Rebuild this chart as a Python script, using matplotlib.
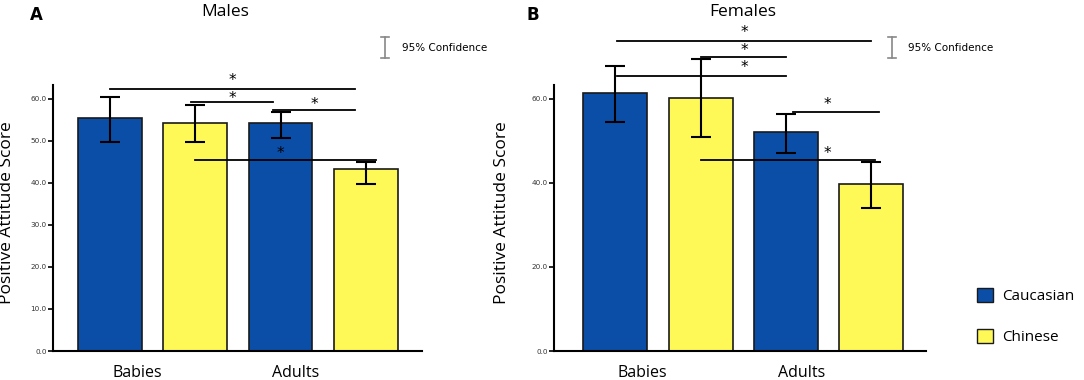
import matplotlib
matplotlib.use("Agg")
import matplotlib.pyplot as plt
from matplotlib.lines import Line2D
from matplotlib.patches import Patch

plt.rcParams['font.family'] = ['Open Sans', 'DejaVu Sans']

# ---- data ----
groups = ['Babies', 'Adults']
ethnicities = ['Caucasian', 'Chinese']
# bar order: Caucasian-Babies, Chinese-Babies, Caucasian-Adults, Chinese-Adults
males_mean = [55.5, 54.3, 54.3, 43.3]
males_lo = [49.8, 49.8, 50.7, 39.8]
males_hi = [60.5, 58.6, 56.9, 45.0]
females_mean = [61.4, 60.2, 52.1, 39.7]
females_lo = [54.5, 51.0, 47.2, 34.0]
females_hi = [67.9, 69.5, 56.5, 45.0]

# significance brackets: (x_start, x_end, y), star (x, y)
males_sig = [(0.0, 2.87, 62.4), (0.95, 1.91, 59.3), (1.91, 2.87, 57.4), (1.0, 3.12, 45.5)]
males_stars = [(1.43, 64.3), (1.43, 60.2), (2.40, 58.6), (2.0, 46.9)]
females_sig = [(0.02, 2.99, 73.8), (1.0, 2.0, 70.0), (0.02, 2.0, 65.5), (2.08, 3.09, 56.9), (1.0, 3.04, 45.5)]
females_stars = [(1.51, 75.7), (1.51, 71.4), (1.51, 67.4), (2.48, 58.6), (2.48, 47.1)]

males_ticks = [0, 10, 20, 30, 40, 50, 60]
females_ticks = [0, 20, 40, 60]

colors = ['#0b4ea8', '#fff957']
edge = '#1a1a1a'

W, H = 1084, 380
fig = plt.figure(figsize=(W / 100, H / 100), dpi=100)

def px_axes(x0, x1, y_top, y_bot):
    return [x0 / W, 1 - y_bot / H, (x1 - x0) / W, (y_bot - y_top) / H]

axA = fig.add_axes(px_axes(53, 422, 85, 351))
axB = fig.add_axes(px_axes(554, 926, 85, 351))

xpos = [0, 1, 2, 3]
bar_colors = [colors[0], colors[1], colors[0], colors[1]]

def draw(ax, mean, lo, hi, sig, stars, ticks, xlim):
    ax.bar(xpos, mean, width=0.75, color=bar_colors, edgecolor=edge, linewidth=1.2, zorder=2)
    yerr = [[m - l for m, l in zip(mean, lo)], [h - m for m, h in zip(mean, hi)]]
    cont = ax.errorbar(xpos, mean, yerr=yerr, fmt='none', ecolor='black', elinewidth=1.5,
                       capsize=7.5, capthick=1.5, zorder=3)
    for child in cont.get_children():
        child.set_clip_on(False)
    for x0, x1, y in sig:
        ax.plot([x0, x1], [y, y], color='black', lw=1.3, clip_on=False, zorder=4)
    for x, y in stars:
        ax.text(x, y, '*', ha='center', va='center', fontsize=11, clip_on=False,
                family='DejaVu Sans')
    ax.set_ylim(0, 63.3)
    ax.set_xlim(*xlim)
    ax.spines['top'].set_visible(False)
    ax.spines['right'].set_visible(False)
    ax.spines['left'].set_linewidth(1.5)
    ax.spines['bottom'].set_linewidth(1.5)
    ax.set_yticks(ticks)
    ax.set_yticklabels([f'{t:.1f}' for t in ticks], fontsize=5.2, color='#333333',
                       family='DejaVu Sans')
    ax.tick_params(axis='y', length=3.5, width=1.2, pad=1)
    ax.set_xticks([0.32, 2.18])
    ax.set_xticklabels(groups, fontsize=11.5)
    ax.tick_params(axis='x', length=0, pad=10)
    ax.set_ylabel('Positive Attitude Score', fontsize=12.5)

draw(axA, males_mean, males_lo, males_hi, males_sig, males_stars, males_ticks, (-0.67, 3.66))
draw(axB, females_mean, females_lo, females_hi, females_sig, females_stars, females_ticks, (-0.72, 3.64))
axA.yaxis.set_label_coords((15 - 53) / 369, 0.52)
axB.yaxis.set_label_coords((510 - 554) / 372, 0.52)

# titles and panel letters
fig.text(225 / W, 1 - 12 / H, 'Males', ha='center', va='center', fontsize=12.5)
fig.text(743 / W, 1 - 12 / H, 'Females', ha='center', va='center', fontsize=12.5)
fig.text(36 / W, 1 - 15 / H, 'A', ha='center', va='center', fontsize=12, fontweight='bold',
         family='DejaVu Sans')
fig.text(533 / W, 1 - 15 / H, 'B', ha='center', va='center', fontsize=12, fontweight='bold',
         family='DejaVu Sans')

# 95% confidence key
def conf_key(xc, xt):
    gray = '#888888'
    y0, y1 = 1 - 37 / H, 1 - 58 / H
    fig.add_artist(Line2D([xc / W, xc / W], [y0, y1], color=gray, lw=1.2))
    for y in (y0, y1):
        fig.add_artist(Line2D([(xc - 4) / W, (xc + 4) / W], [y, y], color=gray, lw=1.2))
    fig.text(xt / W, 1 - 48 / H, '95% Confidence', ha='left', va='center', fontsize=7.5,
             family='DejaVu Sans')

conf_key(385, 402)
conf_key(892, 908)

# legend
handles = [Patch(facecolor=colors[0], edgecolor=edge, linewidth=1.0),
           Patch(facecolor=colors[1], edgecolor=edge, linewidth=1.0)]
fig.legend(handles, ethnicities, loc='upper left', bbox_to_anchor=(972 / W, 1 - 283 / H),
           frameon=False, fontsize=11, handlelength=1.1, handleheight=1.1,
           handletextpad=0.6, labelspacing=1.6, borderaxespad=0, borderpad=0.3)

fig.savefig('out.png', dpi=100)
